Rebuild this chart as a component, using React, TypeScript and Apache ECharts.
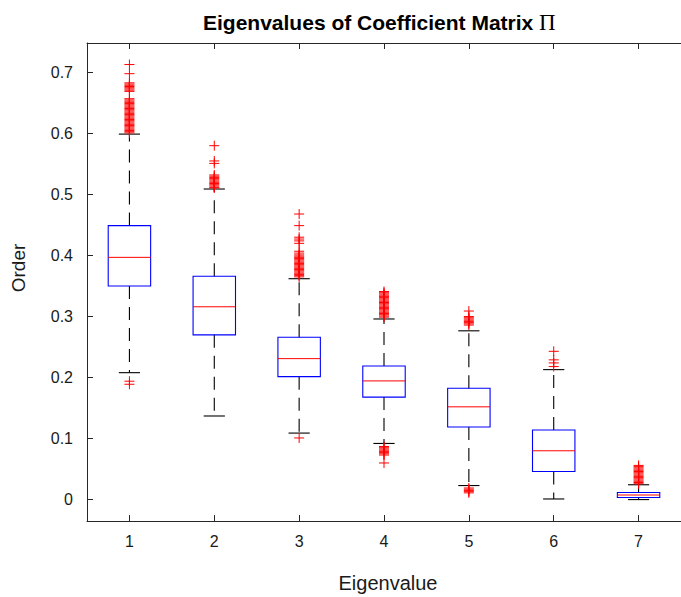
import React, { useEffect, useRef } from 'react';
import * as echarts from 'echarts';

const categories = ['1', '2', '3', '4', '5', '6', '7'];
const lowerWhisker = [0.208, 0.137, 0.109, 0.092, 0.023, 0.001, 0.0];
const q1 = [0.35, 0.27, 0.2015, 0.168, 0.119, 0.046, 0.0035];
const median = [0.397, 0.316, 0.231, 0.1945, 0.152, 0.08, 0.0075];
const q3 = [0.449, 0.366, 0.266, 0.219, 0.1825, 0.114, 0.0115];
const upperWhisker = [0.599, 0.509, 0.362, 0.296, 0.2766, 0.213, 0.0243];

const outliers1 = [0.713, 0.698, 0.683, 0.681, 0.679, 0.677, 0.675, 0.673, 0.671, 0.669, 0.657, 0.655, 0.653, 0.651, 0.649, 0.647, 0.645, 0.643, 0.641, 0.639, 0.637, 0.635, 0.633, 0.631, 0.629, 0.627, 0.625, 0.623, 0.621, 0.619, 0.617, 0.615, 0.613, 0.611, 0.609, 0.607, 0.605, 0.603, 0.601, 0.194, 0.189];
const outliers2 = [0.58, 0.555, 0.551, 0.532, 0.53, 0.528, 0.526, 0.524, 0.522, 0.52, 0.518, 0.516, 0.514, 0.512, 0.511];
const outliers3 = [0.468, 0.449, 0.43, 0.427, 0.424, 0.42, 0.407, 0.404, 0.401, 0.399, 0.397, 0.395, 0.393, 0.391, 0.389, 0.387, 0.385, 0.383, 0.381, 0.379, 0.377, 0.375, 0.373, 0.371, 0.369, 0.367, 0.365, 0.101];
const outliers4 = [0.341, 0.339, 0.337, 0.335, 0.333, 0.331, 0.329, 0.327, 0.325, 0.323, 0.321, 0.319, 0.317, 0.315, 0.313, 0.311, 0.309, 0.307, 0.305, 0.303, 0.301, 0.299, 0.087, 0.085, 0.083, 0.081, 0.079, 0.077, 0.075, 0.073, 0.06];
const outliers5 = [0.309, 0.3, 0.298, 0.296, 0.294, 0.292, 0.29, 0.288, 0.286, 0.019, 0.017, 0.015, 0.013, 0.011];
const outliers6 = [0.243, 0.229, 0.224, 0.218];
const outliers7 = [0.056, 0.054, 0.052, 0.05, 0.048, 0.046, 0.044, 0.042, 0.04, 0.038, 0.036, 0.034, 0.032, 0.03, 0.028, 0.026];
const outlierGroups = [outliers1, outliers2, outliers3, outliers4, outliers5, outliers6, outliers7];

const xTickValues = [1, 2, 3, 4, 5, 6, 7];
const yTickValues = [0, 0.1, 0.2, 0.3, 0.4, 0.5, 0.6, 0.7];
const yTickLabels = ['0', '0.1', '0.2', '0.3', '0.4', '0.5', '0.6', '0.7'];

const FONT = "'Liberation Sans', Arial, Helvetica, sans-serif";
const AXIS_COLOR = '#262626';
const BOX_WIDTH = 0.5;
const CAP_WIDTH = 0.25;
const CROSS = 5;

export default function App() {
  const ref = useRef<HTMLDivElement>(null);
  useEffect(() => {
    if (!ref.current) return;
    const chart = echarts.init(ref.current, null, { renderer: 'svg' });

    const boxData = categories.map((_, i) => [
      xTickValues[i], lowerWhisker[i], q1[i], median[i], q3[i], upperWhisker[i],
    ]);
    const outlierData: number[][] = [];
    outlierGroups.forEach((g, i) => g.forEach((v) => outlierData.push([xTickValues[i], v])));

    const axisCommon = {
      axisLine: { show: true, onZero: false, lineStyle: { color: AXIS_COLOR, width: 1 } },
      splitLine: { show: false },
    };

    const option: any = {
      animation: false,
      backgroundColor: '#fff',
      title: {
        text: '{a|Eigenvalues of Coefficient Matrix }{b|Π}',
        left: 198,
        top: 6,
        textStyle: {
          rich: {
            a: { fontFamily: FONT, fontWeight: 'bold', fontSize: 21, color: '#000' },
            b: { fontFamily: "'Liberation Serif', 'DejaVu Serif', serif", fontWeight: 'normal', fontSize: 23, color: '#000' },
          },
        },
      },
      grid: { left: 87, right: -8, top: 43, bottom: 76, containLabel: false },
      xAxis: [
        {
          type: 'value', min: 0.5, max: 7.5, position: 'bottom', ...axisCommon,
          axisTick: { show: true, inside: true, length: 6, customValues: xTickValues, lineStyle: { color: AXIS_COLOR } },
          axisLabel: {
            show: true, customValues: xTickValues, margin: 12, fontSize: 16, fontFamily: FONT, color: '#1a1a1a',
            formatter: (v: number) => categories[xTickValues.indexOf(Math.round(v))] ?? '',
          },
        },
        {
          type: 'value', min: 0.5, max: 7.5, position: 'top', ...axisCommon,
          axisTick: { show: true, inside: true, length: 6, customValues: xTickValues, lineStyle: { color: AXIS_COLOR } },
          axisLabel: { show: false },
        },
      ],
      yAxis: [
        {
          type: 'value', min: -0.0351, max: 0.7483, position: 'left', ...axisCommon,
          axisTick: { show: true, inside: true, length: 6, customValues: yTickValues, lineStyle: { color: AXIS_COLOR } },
          axisLabel: {
            show: true, customValues: yTickValues, margin: 14, fontSize: 16, fontFamily: FONT, color: '#1a1a1a',
            formatter: (v: number) => {
              const idx = yTickValues.findIndex((t) => Math.abs(t - v) < 1e-9);
              return idx >= 0 ? yTickLabels[idx] : '';
            },
          },
        },
      ],
      graphic: [
        {
          type: 'text', x: 388, y: 583,
          style: { text: 'Eigenvalue', font: `normal 20px ${FONT}`, fill: '#1a1a1a', align: 'center', verticalAlign: 'middle' },
        },
        {
          type: 'text', x: 18, y: 268, rotation: Math.PI / 2,
          style: { text: 'Order', font: `normal 19px ${FONT}`, fill: '#1a1a1a', align: 'center', verticalAlign: 'middle' },
        },
      ],
      series: [
        {
          type: 'custom',
          name: 'boxes',
          xAxisIndex: 0,
          yAxisIndex: 0,
          data: boxData,
          encode: { x: 0, y: [1, 2, 3, 4, 5] },
          z: 2,
          renderItem: (params: any, api: any) => {
            const x = api.value(0);
            const lo = api.coord([x, api.value(1)]);
            const b1 = api.coord([x, api.value(2)]);
            const md = api.coord([x, api.value(3)]);
            const b3 = api.coord([x, api.value(4)]);
            const hi = api.coord([x, api.value(5)]);
            const bw = api.size([BOX_WIDTH, 0])[0];
            const cw = api.size([CAP_WIDTH, 0])[0];
            const cx = lo[0];
            const dashStyle = { stroke: '#000', lineWidth: 1.1, lineDash: [13, 8] };
            const solid = { stroke: '#000', lineWidth: 1.1 };
            return {
              type: 'group',
              children: [
                { type: 'line', shape: { x1: cx, y1: b3[1], x2: cx, y2: hi[1] }, style: dashStyle },
                { type: 'line', shape: { x1: cx, y1: b1[1], x2: cx, y2: lo[1] }, style: dashStyle },
                { type: 'line', shape: { x1: cx - cw / 2, y1: hi[1], x2: cx + cw / 2, y2: hi[1] }, style: solid },
                { type: 'line', shape: { x1: cx - cw / 2, y1: lo[1], x2: cx + cw / 2, y2: lo[1] }, style: solid },
                {
                  type: 'rect',
                  shape: { x: cx - bw / 2, y: b3[1], width: bw, height: b1[1] - b3[1] },
                  style: { fill: 'none', stroke: '#0000ff', lineWidth: 1.1 },
                },
                { type: 'line', shape: { x1: cx - bw / 2, y1: md[1], x2: cx + bw / 2, y2: md[1] }, style: { stroke: '#ff0000', lineWidth: 1 } },
              ],
            };
          },
        },
        {
          type: 'custom',
          name: 'outliers',
          xAxisIndex: 0,
          yAxisIndex: 0,
          data: outlierData,
          encode: { x: 0, y: 1 },
          z: 3,
          renderItem: (params: any, api: any) => {
            const p = api.coord([api.value(0), api.value(1)]);
            const st = { stroke: '#ff0000', lineWidth: 1 };
            return {
              type: 'group',
              children: [
                { type: 'line', shape: { x1: p[0] - CROSS, y1: p[1], x2: p[0] + CROSS, y2: p[1] }, style: st },
                { type: 'line', shape: { x1: p[0], y1: p[1] - CROSS, x2: p[0], y2: p[1] + CROSS }, style: st },
              ],
            };
          },
        },
      ],
    };
    chart.setOption(option);
    return () => chart.dispose();
  }, []);

  return (
    <div
      ref={ref}
      style={{ position: 'fixed', left: 0, top: 0, width: 681, height: 597, background: '#fff' }}
    />
  );
}
